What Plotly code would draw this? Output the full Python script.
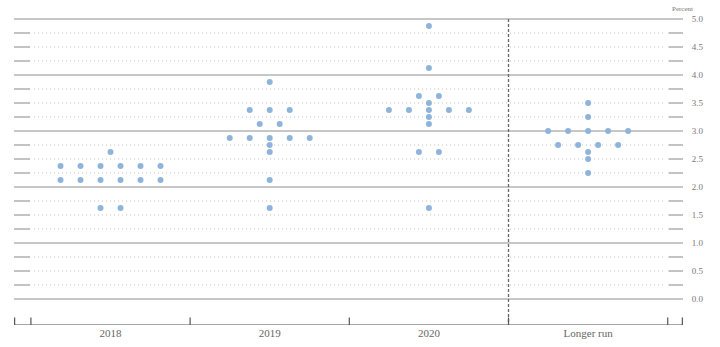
import plotly.graph_objects as go

# ---- data ----
categories = ["2018", "2019", "2020", "Longer run"]

rates_2018 = [1.625, 2.125, 2.375, 2.625]
counts_2018 = [2, 6, 6, 1]

rates_2019 = [1.625, 2.125, 2.625, 2.75, 2.875, 3.125, 3.375, 3.875]
counts_2019 = [1, 1, 1, 1, 5, 2, 3, 1]

rates_2020 = [1.625, 2.625, 3.125, 3.25, 3.375, 3.5, 3.625, 4.125, 4.875]
counts_2020 = [1, 2, 1, 1, 5, 1, 2, 1, 1]

rates_lr = [2.25, 2.5, 2.625, 2.75, 3.0, 3.25, 3.5]
counts_lr = [1, 1, 1, 4, 5, 1, 1]

y_tick_vals = [0.0, 0.5, 1.0, 1.5, 2.0, 2.5, 3.0, 3.5, 4.0, 4.5, 5.0]
y_tick_text = ["0.0", "0.5", "1.0", "1.5", "2.0", "2.5", "3.0", "3.5", "4.0", "4.5", "5.0"]

# ---- styling / geometry ----
FONT = "Liberation Serif"
DOT_COLOR = "#8fb4db"
GRID_COLOR = "#b4b4b4"
DOT_STEP = 0.1256          # horizontal spacing between dots in a row (x units)
X_MIN, X_MAX = -0.6062, 3.5960
Y_MIN, Y_MAX = -0.4643, 5.25

groups = [(rates_2018, counts_2018), (rates_2019, counts_2019),
          (rates_2020, counts_2020), (rates_lr, counts_lr)]

fig = go.Figure()

xs, ys = [], []
for gi, (rates, counts) in enumerate(groups):
    for r, n in zip(rates, counts):
        for i in range(n):
            xs.append(gi + (i - (n - 1) / 2) * DOT_STEP)
            ys.append(r)

fig.add_trace(go.Scatter(
    x=xs, y=ys, mode="markers",
    marker=dict(size=6, color=DOT_COLOR, line=dict(width=0)),
    hoverinfo="skip", showlegend=False,
))

shapes = []
# horizontal grid lines
for k in range(0, 21):
    v = k * 0.25
    if k % 4 == 0:
        shapes.append(dict(type="line", xref="x", yref="y", x0=X_MIN, x1=X_MAX,
                           y0=v, y1=v, line=dict(color=GRID_COLOR, width=1.6), layer="below"))
    else:
        shapes.append(dict(type="line", xref="x", yref="y", x0=-0.48, x1=3.48,
                           y0=v, y1=v, line=dict(color="#bdbdbd", width=1, dash="1px,3px"),
                           layer="below"))
        shapes.append(dict(type="line", xref="x", yref="y", x0=X_MIN, x1=-0.505,
                           y0=v, y1=v, line=dict(color=GRID_COLOR, width=1.6), layer="below"))
        shapes.append(dict(type="line", xref="x", yref="y", x0=3.505, x1=X_MAX,
                           y0=v, y1=v, line=dict(color=GRID_COLOR, width=1.6), layer="below"))

# vertical dashed separator before "Longer run"
shapes.append(dict(type="line", xref="x", yref="y", x0=2.5, x1=2.5, y0=5.0, y1=Y_MIN,
                   line=dict(color="#666666", width=1.3, dash="3px,2px"), layer="below"))

# bottom axis line and ticks
shapes.append(dict(type="line", xref="x", yref="y", x0=X_MIN, x1=X_MAX, y0=Y_MIN, y1=Y_MIN,
                   line=dict(color="#8a8a8a", width=1.4)))
for tx in [X_MIN + 0.004, -0.5, 0.5, 1.5, 2.5, 3.5, X_MAX - 0.004]:
    shapes.append(dict(type="line", xref="x", yref="y", x0=tx, x1=tx, y0=Y_MIN, y1=-0.33,
                       line=dict(color="#555555", width=1.2)))

fig.update_layout(
    width=720, height=347,
    margin=dict(l=14, r=37, t=5, b=22),
    paper_bgcolor="white", plot_bgcolor="white",
    shapes=shapes,
    font=dict(family=FONT),
    xaxis=dict(range=[X_MIN, X_MAX], tickvals=[0, 1, 2, 3], ticktext=categories,
               showgrid=False, zeroline=False, showline=False, ticks="",
               tickfont=dict(family=FONT, size=11, color="#666666"), fixedrange=True),
    yaxis=dict(range=[Y_MIN, Y_MAX], side="right", tickvals=y_tick_vals, ticktext=y_tick_text,
               showgrid=False, zeroline=False, showline=False,
               ticks="outside", ticklen=6, tickcolor="rgba(0,0,0,0)",
               tickfont=dict(family=FONT, size=9, color="#777777"), fixedrange=True),
    annotations=[dict(text="Percent", xref="paper", yref="paper", x=1, y=1,
                      xanchor="left", yanchor="middle", xshift=-13, yshift=-4,
                      showarrow=False, font=dict(family=FONT, size=7, color="#777777"))],
)

fig.write_html("out.html")
